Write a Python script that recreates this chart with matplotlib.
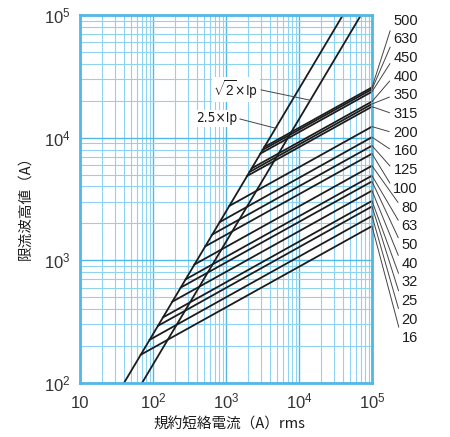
import matplotlib
matplotlib.use("Agg")
import matplotlib.pyplot as plt
from matplotlib.ticker import FixedLocator, LogLocator, NullFormatter

# ---------- data ----------
# fuse ratings, in the order of the labels on the right (top to bottom)
ratings = ['500', '630', '450', '400', '350', '315', '200', '160', '125',
           '100', '80', '63', '50', '40', '32', '25', '20', '16']
# cut-off peak current (A) at 100 kA rms
peak_at_100k = [25700, 24800, 23700, 19700, 18800, 17900, 12300, 10100, 8600,
                7400, 5900, 4900, 4400, 3700, 3050, 2750, 2300, 1900]
# prospective rms current (A) where each curve leaves the 2.5 x Ip line
start_rms = [3360, 3180, 2970, 2250, 2100, 1950, 1110, 820, 650,
             520, 370, 280, 240, 184, 137, 117, 90, 68]

# peak factors of the two reference lines
factors = [2 ** 0.5, 2.5]
factor_labels = [r'$\sqrt{2}$' + '×Ip', '2.5×Ip']

x_ticks = [10, 1e2, 1e3, 1e4, 1e5]
x_ticklabels = ['10', r'$10^{2}$', r'$10^{3}$', r'$10^{4}$', r'$10^{5}$']
y_ticks = [1e2, 1e3, 1e4, 1e5]
y_ticklabels = [r'$10^{2}$', r'$10^{3}$', r'$10^{4}$', r'$10^{5}$']

xlabel = '規約短絡電流（A）rms'
ylabel = '限流波高値（A）'

# ---------- style ----------
plt.rcParams['font.family'] = ['Liberation Sans', 'DejaVu Sans']
plt.rcParams['mathtext.fontset'] = 'custom'
plt.rcParams['mathtext.rm'] = 'Liberation Sans'
plt.rcParams['mathtext.it'] = 'Liberation Sans:italic'
plt.rcParams['mathtext.bf'] = 'Liberation Sans:bold'

GRID = '#8ED3EF'
SPINE = '#52B8E6'
INK = '#1c1c1c'
TXT = '#333333'
cjk = ['Noto Sans CJK JP', 'DejaVu Sans']
narrow = ['Liberation Sans Narrow', 'DejaVu Sans']

fig = plt.figure(figsize=(4.5, 4.37), dpi=100)
ax = fig.add_axes([80 / 450, 1 - 383 / 437, 292 / 450, 368 / 437])
ax.set_xscale('log')
ax.set_yscale('log')
ax.set_xlim(10, 1e5)
ax.set_ylim(100, 1e5)

ax.xaxis.set_minor_locator(LogLocator(base=10, subs=range(2, 10)))
ax.yaxis.set_minor_locator(LogLocator(base=10, subs=range(2, 10)))
ax.xaxis.set_minor_formatter(NullFormatter())
ax.yaxis.set_minor_formatter(NullFormatter())
ax.grid(True, which='major', color=SPINE, linewidth=1.0)
ax.grid(True, which='minor', color=GRID, linewidth=0.8)
ax.set_axisbelow(True)
for s in ax.spines.values():
    s.set_color(SPINE)
    s.set_linewidth(2.0)

ax.xaxis.set_major_locator(FixedLocator(x_ticks))
ax.set_xticklabels(x_ticklabels)
ax.yaxis.set_major_locator(FixedLocator(y_ticks))
ax.set_yticklabels(y_ticklabels)
ax.tick_params(which='both', length=0, labelsize=12, colors=TXT)
ax.tick_params(axis='x', pad=18)
ax.tick_params(axis='y', pad=7)
for lbl in ax.get_xticklabels():
    lbl.set_verticalalignment('baseline')

# reference lines  peak = k * Ip
for k in factors:
    ax.plot([10, 1e5], [10 * k, 1e5 * k], color=INK, linewidth=1.3, clip_on=True)

# fuse cut-off curves, from the 2.5 x Ip line out to 100 kA
for r, p, s in zip(ratings, peak_at_100k, start_rms):
    ax.plot([s, 1e5], [2.5 * s, p], color=INK, linewidth=1.3)

# rating labels with leader lines
n = len(ratings)
for i, (r, p) in enumerate(zip(ratings, peak_at_100k)):
    ypix = 20.7 + i * (338.3 - 20.7) / (n - 1)
    ax.annotate(r, xy=(1e5, p), xycoords='data',
                xytext=(418 / 450, 1 - ypix / 437), textcoords='figure fraction',
                ha='right', va='center', fontsize=10.5, color=INK,
                annotation_clip=False,
                arrowprops=dict(arrowstyle='-', color='#444444', linewidth=0.7,
                                shrinkA=1, shrinkB=0, relpos=(0, 0.5)))

# labels for the two reference lines
label_pos = [(2760, 24800), (1420, 14400)]
label_tip = [(14280, 20200), (4780, 11940)]
for lab, pos, tip in zip(factor_labels, label_pos, label_tip):
    ax.annotate(lab, xy=tip, xytext=pos, ha='right', va='center',
                fontsize=9.8, color=INK, family=narrow, fontstretch='condensed',
                bbox=dict(boxstyle='square,pad=0.1', fc='white', ec='none'),
                arrowprops=dict(arrowstyle='-', color='#444444', linewidth=0.7,
                                shrinkA=1, shrinkB=0, relpos=(1, 0.5)))

ax.set_xlabel(xlabel, fontsize=10.5, family=cjk, color=INK)
ax.set_ylabel(ylabel, fontsize=10.5, family=cjk, color=INK)
ax.xaxis.set_label_coords(0.51, -0.095)
ax.yaxis.set_label_coords(-0.164, 0.486)

fig.savefig('out.png', dpi=100)
